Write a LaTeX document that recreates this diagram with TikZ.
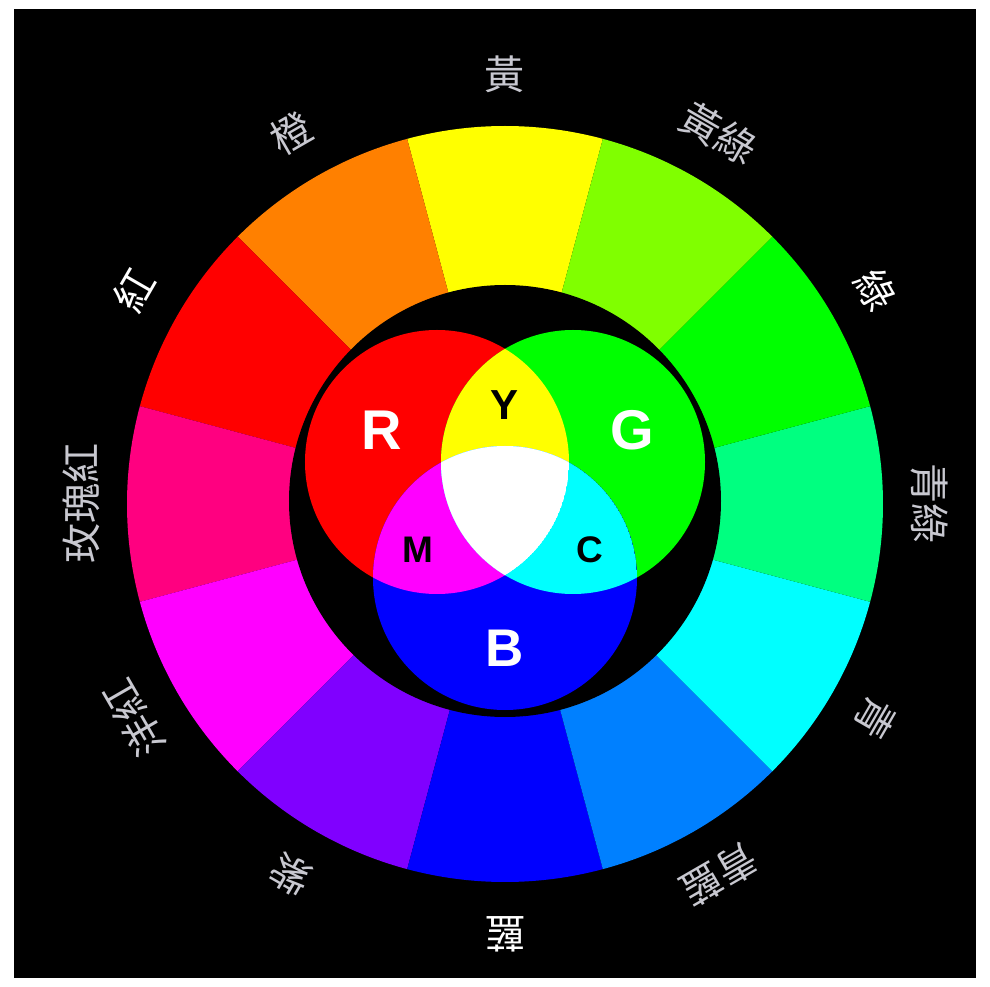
\documentclass[tikz,border=0pt]{standalone}
\usepackage{fontspec}
\setmainfont{Liberation Sans}
\newfontfamily\cjk{Noto Sans CJK TC}
\definecolor{cY}{HTML}{FFFF00}
\definecolor{cO}{HTML}{FF8000}
\definecolor{cR}{HTML}{FF0000}
\definecolor{cRose}{HTML}{FF0080}
\definecolor{cM}{HTML}{FF00FF}
\definecolor{cV}{HTML}{8000FF}
\definecolor{cB}{HTML}{0000FF}
\definecolor{cAz}{HTML}{0080FF}
\definecolor{cC}{HTML}{00FFFF}
\definecolor{cSG}{HTML}{00FF80}
\definecolor{cG}{HTML}{00FF00}
\definecolor{cCh}{HTML}{80FF00}
\definecolor{lblgray}{HTML}{C8C8D0}
\tikzset{
  huelabel/.style={font=\cjk\fontsize{40}{40}\selectfont, text=lblgray, inner sep=0pt},
  huewhite/.style={huelabel, text=white},
  bigletter/.style={font=\bfseries\fontsize{56}{56}\selectfont, text=white, inner sep=0pt},
  smallletter/.style={font=\bfseries\fontsize{40}{40}\selectfont, text=black, inner sep=0pt}
}
\begin{document}
\begin{tikzpicture}[x=1pt,y=1pt]
\fill[white] (-505,-483) rectangle (485,504);
\useasboundingbox (-505,-483) rectangle (485,504);
\fill[black] (-491,-474) rectangle (471,495);
% wheel sectors
\foreach \a/\c in {90/cY,120/cO,150/cR,180/cRose,210/cM,240/cV,270/cB,300/cAz,330/cC,0/cSG,30/cG,60/cCh}{
  \fill[\c] (0,0) -- (\a-15:378) arc[start angle=\a-15, end angle=\a+15, radius=378] -- cycle;
}
% inner black disc
\fill[black] (0,3) circle[radius=216];
% Venn circles
\coordinate (rc) at (-68,42);
\coordinate (gc) at (68,42);
\coordinate (bc) at (0,-74);
\fill[cR] (rc) circle[radius=132];
\fill[cG] (gc) circle[radius=132];
\fill[cB] (bc) circle[radius=132];
\begin{scope}
  \clip (rc) circle[radius=132];
  \fill[cY] (gc) circle[radius=132];
  \fill[cM] (bc) circle[radius=132];
  \clip (gc) circle[radius=132];
  \fill[white] (bc) circle[radius=132];
\end{scope}
\begin{scope}
  \clip (gc) circle[radius=132];
  \clip (bc) circle[radius=132];
  \fill[cC] (bc) circle[radius=132];
  \clip (rc) circle[radius=132];
  \fill[white] (rc) circle[radius=132];
\end{scope}
% Venn letters
\node[bigletter] (lR) at (-123,74) {R};
\node[bigletter] (lG) at (127,74) {G};
\node[bigletter, font=\bfseries\fontsize{53}{53}\selectfont] (lB) at (0,-144) {B};
\node[smallletter, font=\bfseries\fontsize{42}{42}\selectfont] (lY) at (0,99) {Y};
\node[smallletter, font=\bfseries\fontsize{37}{37}\selectfont] (lM) at (-87,-46) {M};
\node[smallletter, font=\bfseries\fontsize{37}{37}\selectfont] (lC) at (85,-46) {C};
% hue labels
\node[huelabel, rotate=0]   (h90)  at (90:430)  {黃};
\node[huelabel, rotate=-30] (h60)  at (60:428)  {黃綠};
\node[huewhite, rotate=-60] (h30)  at (30:428)  {綠};
\node[huelabel, rotate=-90] (h0)   at (0:424)   {青綠};
\node[huelabel, rotate=-120](h330) at (330:428) {青};
\node[huelabel, rotate=-150](h300) at (300:428) {青藍};
\node[huewhite, rotate=180] (h270) at (270:430) {藍};
\node[huelabel, rotate=150] (h240) at (240:428) {紫};
\node[huelabel, rotate=120] (h210) at (210:428) {洋紅};
\node[huelabel, rotate=90]  (h180) at (180:424) {玫瑰紅};
\node[huewhite, rotate=60]  (h150) at (150:428) {紅};
\node[huelabel, rotate=30]  (h120) at (120:428) {橙};
\end{tikzpicture}
\end{document}
